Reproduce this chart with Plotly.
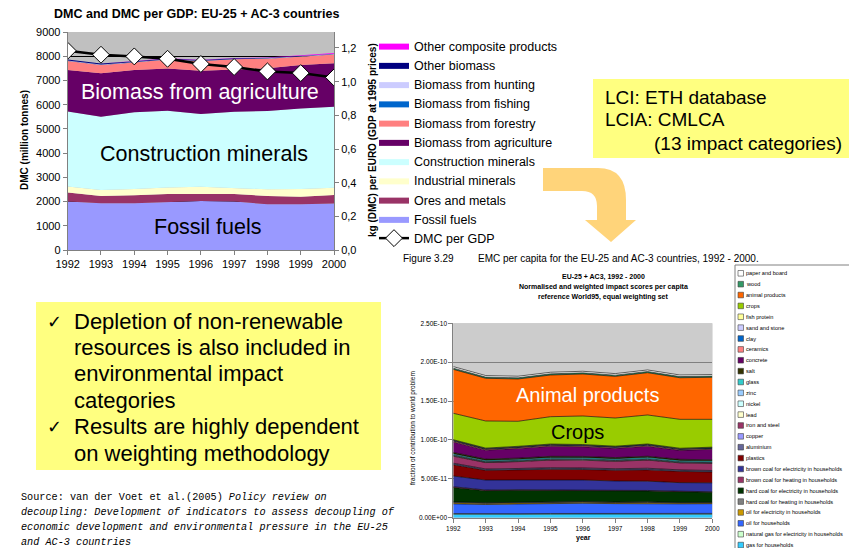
import plotly.graph_objects as go

W, H = 857, 548
FONT = "Arial, Liberation Sans, sans-serif"
PAGE_OFFSET = 8  # default page margin of the html body

# ---------------- top chart: DMC (million tonnes) ----------------
years = [1992, 1993, 1994, 1995, 1996, 1997, 1998, 1999, 2000]
fossil_fuels = [2000, 1930, 1930, 1960, 2020, 2000, 1890, 1890, 1920]
ores_and_metals = [370, 300, 330, 350, 290, 310, 340, 310, 350]
industrial_minerals = [250, 250, 260, 275, 300, 260, 275, 315, 300]
construction_minerals = [3095, 3025, 3165, 3165, 3000, 3135, 3235, 3330, 3345]
biomass_agriculture = [1720, 1790, 1745, 1745, 1790, 1760, 1760, 1790, 1790]
biomass_forestry = [370, 345, 315, 370, 400, 410, 400, 345, 370]
biomass_fishing = [10, 10, 10, 10, 10, 10, 10, 10, 10]
biomass_hunting = [5, 5, 5, 5, 5, 5, 5, 5, 5]
other_biomass = [40, 40, 35, 30, 30, 25, 20, 15, 10]
other_composite = [5, 5, 5, 5, 5, 10, 15, 25, 30]
dmc_per_gdp = [1.184, 1.160, 1.150, 1.136, 1.105, 1.087, 1.061, 1.051, 1.025]

left_ticks = [0, 1000, 2000, 3000, 4000, 5000, 6000, 7000, 8000, 9000]
left_grid = [1000, 2000, 3000, 4000, 5000, 6000, 7000, 8000]
right_tickvals = [0.0, 0.2, 0.4, 0.6, 0.8, 1.0, 1.2]
right_ticktext = ["0,0", "0,2", "0,4", "0,6", "0,8", "1,0", "1,2"]

top_series = [
    ("Fossil fuels", fossil_fuels, "#9999FF"),
    ("Ores and metals", ores_and_metals, "#993366"),
    ("Industrial minerals", industrial_minerals, "#FFFFCC"),
    ("Construction minerals", construction_minerals, "#CCFFFF"),
    ("Biomass from agriculture", biomass_agriculture, "#660066"),
    ("Biomass from forestry", biomass_forestry, "#FF8080"),
    ("Biomass from fishing", biomass_fishing, "#0066CC"),
    ("Biomass from hunting", biomass_hunting, "#CCCCFF"),
    ("Other biomass", other_biomass, "#000080"),
    ("Other composite products", other_composite, "#FF00FF"),
]

# ---------------- bottom chart: impact scores (units of 1E-11) ----------------
SCALE = 1e-11
gas_households = [0.45, 0.42, 0.43, 0.45, 0.47, 0.45, 0.46, 0.44, 0.45]
natural_gas_electricity = [0.08, 0.08, 0.08, 0.09, 0.09, 0.09, 0.10, 0.10, 0.10]
oil_households = [1.25, 1.20, 1.25, 1.28, 1.30, 1.27, 1.28, 1.24, 1.25]
oil_electricity = [0.15, 0.14, 0.14, 0.13, 0.14, 0.13, 0.13, 0.12, 0.12]
hard_coal_heating = [0.10, 0.09, 0.08, 0.08, 0.08, 0.07, 0.07, 0.07, 0.06]
hard_coal_electricity = [1.85, 1.55, 1.55, 1.50, 1.45, 1.45, 1.40, 1.38, 1.30]
brown_coal_heating = [0.10, 0.08, 0.07, 0.07, 0.07, 0.06, 0.06, 0.06, 0.05]
brown_coal_electricity = [1.38, 1.28, 1.25, 1.28, 1.25, 1.20, 1.20, 1.10, 1.15]
plastics = [1.45, 1.25, 1.30, 1.35, 1.35, 1.38, 1.45, 1.45, 1.40]
aluminium = [0.12, 0.11, 0.11, 0.12, 0.12, 0.12, 0.13, 0.12, 0.12]
copper = [0.08, 0.07, 0.07, 0.08, 0.08, 0.08, 0.08, 0.07, 0.07]
iron_and_steel = [0.90, 0.82, 0.88, 0.98, 1.00, 0.95, 1.05, 0.90, 0.92]
lead = [0.05, 0.04, 0.04, 0.05, 0.05, 0.05, 0.05, 0.04, 0.04]
nickel = [0.05, 0.05, 0.05, 0.05, 0.05, 0.05, 0.05, 0.05, 0.05]
zinc = [0.08, 0.07, 0.07, 0.08, 0.08, 0.08, 0.08, 0.07, 0.07]
glass = [0.15, 0.15, 0.15, 0.16, 0.16, 0.16, 0.17, 0.16, 0.16]
salt = [0.15, 0.14, 0.14, 0.14, 0.14, 0.14, 0.14, 0.14, 0.14]
concrete = [1.35, 1.15, 1.25, 1.30, 1.25, 1.20, 1.30, 1.15, 1.35]
ceramics = [0.12, 0.10, 0.11, 0.12, 0.12, 0.11, 0.12, 0.11, 0.11]
clay = [0.08, 0.07, 0.07, 0.07, 0.07, 0.07, 0.07, 0.07, 0.07]
sand_and_stone = [0.04, 0.04, 0.04, 0.04, 0.04, 0.04, 0.04, 0.04, 0.04]
fish_protein = [0.05, 0.05, 0.05, 0.05, 0.05, 0.05, 0.05, 0.05, 0.05]
crops = [3.40, 3.49, 3.22, 3.52, 3.67, 3.62, 3.73, 3.72, 3.58]
animal_products = [5.65, 5.49, 5.44, 5.36, 5.40, 5.36, 5.44, 5.35, 5.41]
wood = [0.15, 0.15, 0.15, 0.15, 0.15, 0.15, 0.15, 0.15, 0.15]
paper_and_board = [0.20, 0.20, 0.20, 0.20, 0.20, 0.20, 0.20, 0.20, 0.20]

bottom_tickvals = [0, 5e-11, 1e-10, 1.5e-10, 2e-10, 2.5e-10]
bottom_grid = [5e-11, 1e-10, 1.5e-10, 2e-10]
bottom_ticktext = ["0.00E+00", "5.00E-11", "1.00E-10", "1.50E-10", "2.00E-10", "2.50E-10"]

bottom_series = [  # stacked bottom -> top
    ("gas for households", gas_households, "#33CCFF"),
    ("natural gas for electricity in households", natural_gas_electricity, "#CCFFCC"),
    ("oil for households", oil_households, "#3366FF"),
    ("oil for electricity in households", oil_electricity, "#CC9900"),
    ("hard coal for heating in households", hard_coal_heating, "#808080"),
    ("hard coal for electricity in households", hard_coal_electricity, "#003300"),
    ("brown coal for heating in households", brown_coal_heating, "#993366"),
    ("brown coal for electricity in households", brown_coal_electricity, "#333399"),
    ("plastics", plastics, "#800000"),
    ("aluminium", aluminium, "#666699"),
    ("copper", copper, "#9999FF"),
    ("iron and steel", iron_and_steel, "#993366"),
    ("lead", lead, "#FFFFCC"),
    ("nickel", nickel, "#CCFFFF"),
    ("zinc", zinc, "#99CCFF"),
    ("glass", glass, "#33CCCC"),
    ("salt", salt, "#333300"),
    ("concrete", concrete, "#660066"),
    ("ceramics", ceramics, "#FF8080"),
    ("clay", clay, "#0066CC"),
    ("sand and stone", sand_and_stone, "#CCCCFF"),
    ("fish protein", fish_protein, "#FFFF99"),
    ("crops", crops, "#99CC00"),
    ("animal products", animal_products, "#FF6600"),
    ("wood", wood, "#339966"),
    ("paper and board", paper_and_board, "#FFFFFF"),
]


def px(x):
    return (x - PAGE_OFFSET) / W


def py(y):
    return 1 - (y - PAGE_OFFSET) / H


fig = go.Figure()

# DMC per GDP line (first so that reversed legend lists it last)
fig.add_trace(go.Scatter(
    x=years, y=dmc_per_gdp, name="DMC per GDP", xaxis="x", yaxis="y2",
    mode="lines+markers", line=dict(color="#000000", width=2.5),
    marker=dict(symbol="diamond", size=13, color="#FFFFFF",
                line=dict(color="#000000", width=1)),
))
for name, vals, col in top_series:
    fig.add_trace(go.Scatter(
        x=years, y=vals, name=name, xaxis="x", yaxis="y",
        stackgroup="dmc", mode="lines", line=dict(width=0, color=col),
        fillcolor=col,
    ))

for name, vals, col in bottom_series:
    fig.add_trace(go.Scatter(
        x=years, y=[v * SCALE for v in vals], name=name, xaxis="x2", yaxis="y3",
        stackgroup="impact", mode="lines", line=dict(width=0.6, color="#000000"),
        fillcolor=col, showlegend=False,
    ))

shapes = []
annotations = []

# gray plot area for bottom chart
shapes.append(dict(type="rect", xref="x2 domain", yref="y3 domain", x0=0, x1=1, y0=0, y1=1,
                   fillcolor="#CCCCCC", line=dict(width=0), layer="below"))

# yellow boxes
shapes.append(dict(type="rect", xref="paper", yref="paper", x0=px(593), x1=px(870),
                   y0=py(158), y1=py(79), fillcolor="#FFFF80", line=dict(width=0), layer="below"))
shapes.append(dict(type="rect", xref="paper", yref="paper", x0=px(36), x1=px(381),
                   y0=py(470), y1=py(302), fillcolor="#FFFF80", line=dict(width=0), layer="below"))

# curved arrow
def P(x, y):
    return f"{px(x):.5f},{py(y):.5f}"

arrow = ("M " + P(543, 168) + " L " + P(598, 168) + " Q " + P(626, 168) + " " + P(626, 200) +
         " L " + P(626, 220) + " L " + P(636, 220) + " L " + P(611, 242) + " L " + P(585, 220) +
         " L " + P(597, 220) + " L " + P(597, 206) + " Q " + P(597, 191) + " " + P(582, 191) +
         " L " + P(543, 191) + " Z")
shapes.append(dict(type="path", xref="paper", yref="paper", path=arrow,
                   fillcolor="#FFD47A", line=dict(width=0)))

# bottom legend box
shapes.append(dict(type="rect", xref="paper", yref="paper", x0=px(735), x1=px(870),
                   y0=py(570), y1=py(265), fillcolor="#FFFFFF",
                   line=dict(color="#808080", width=1)))
for i, (name, vals, col) in enumerate(reversed(bottom_series)):
    yc = 273.3 + i * 10.87
    shapes.append(dict(type="rect", xref="paper", yref="paper", x0=px(738), x1=px(743.5),
                       y0=py(yc + 2.8), y1=py(yc - 2.8), fillcolor=col,
                       line=dict(color="#404040", width=0.6)))
    annotations.append(dict(xref="paper", yref="paper", x=px(744), y=py(yc), text=name,
                            showarrow=False, xanchor="left", yanchor="middle",
                            font=dict(family=FONT, size=5.6, color="#000000")))

# top chart title
annotations.append(dict(xref="paper", yref="paper", x=px(196), y=py(14),
                        text="<b>DMC and DMC per GDP: EU-25 + AC-3 countries</b>",
                        showarrow=False, xanchor="center", yanchor="middle",
                        font=dict(family=FONT, size=12.5, color="#000000")))
# in-chart labels (top)
annotations.append(dict(xref="x", yref="y", x=1995.97, y=6520, text="Biomass from agriculture",
                        showarrow=False, font=dict(family=FONT, size=21.5, color="#FFFFFF")))
annotations.append(dict(xref="x", yref="y", x=1996.1, y=3960, text="Construction minerals",
                        showarrow=False, font=dict(family=FONT, size=21.5, color="#000000")))
annotations.append(dict(xref="x", yref="y", x=1996.2, y=950, text="Fossil fuels",
                        showarrow=False, font=dict(family=FONT, size=21.5, color="#000000")))
# in-chart labels (bottom)
annotations.append(dict(xref="x2", yref="y3", x=1996.16, y=1.58e-10, text="Animal products",
                        showarrow=False, font=dict(family=FONT, size=20, color="#FFFFFF")))
annotations.append(dict(xref="x2", yref="y3", x=1995.85, y=1.106e-10, text="Crops",
                        showarrow=False, font=dict(family=FONT, size=20, color="#000000")))

# bottom chart title
for txt, yy in [("EU-25 + AC3, 1992 - 2000", 277),
                ("Normalised and weighted impact scores per capita", 287),
                ("reference World95, equal weighting set", 297)]:
    annotations.append(dict(xref="paper", yref="paper", x=px(603), y=py(yy), text="<b>" + txt + "</b>",
                            showarrow=False, xanchor="center", yanchor="middle",
                            font=dict(family=FONT, size=7, color="#000000")))

# figure caption
annotations.append(dict(xref="paper", yref="paper", x=px(401), y=py(258), text="Figure 3.29",
                        showarrow=False, xanchor="left", yanchor="middle",
                        font=dict(family=FONT, size=10, color="#000000")))
annotations.append(dict(xref="paper", yref="paper", x=px(476), y=py(258),
                        text="EMC per capita for the EU-25 and AC-3 countries, 1992 - 2000.",
                        showarrow=False, xanchor="left", yanchor="middle",
                        font=dict(family=FONT, size=10, color="#000000")))

# LCI box text
for txt, xx, yy in [("LCI: ETH database", 603, 97), ("LCIA: CMLCA", 603, 120),
                    ("(13 impact categories)", 652, 143)]:
    annotations.append(dict(xref="paper", yref="paper", x=px(xx), y=py(yy), text=txt,
                            showarrow=False, xanchor="left", yanchor="middle",
                            font=dict(family=FONT, size=19, color="#000000")))

# bullet box text
bullet_lines = ["Depletion of non-renewable", "resources is also included in",
                "environmental impact", "categories", "Results are highly dependent",
                "on weighting methodology"]
for i, txt in enumerate(bullet_lines):
    yy = 321 + i * 26.4
    annotations.append(dict(xref="paper", yref="paper", x=px(72), y=py(yy), text=txt,
                            showarrow=False, xanchor="left", yanchor="middle",
                            font=dict(family=FONT, size=22, color="#000000")))
    if i in (0, 4):
        annotations.append(dict(xref="paper", yref="paper", x=px(45), y=py(yy), text="✓",
                                showarrow=False, xanchor="left", yanchor="middle",
                                font=dict(family="DejaVu Sans", size=18, color="#000000")))

# source text
source_lines = ["Source: van der Voet et al.(2005) <i>Policy review on</i>",
                "<i>decoupling: Development of indicators to assess decoupling of</i>",
                "<i>economic development and environmental pressure in the EU-25</i>",
                "<i>and AC-3 countries</i>"]
for i, txt in enumerate(source_lines):
    annotations.append(dict(xref="paper", yref="paper", x=px(19), y=py(497 + i * 15), text=txt,
                            showarrow=False, xanchor="left", yanchor="middle",
                            font=dict(family="Liberation Mono, DejaVu Sans Mono, monospace",
                                      size=10.2, color="#000000")))

# axis titles (bottom chart)
annotations.append(dict(xref="paper", yref="paper", x=px(413), y=py(428),
                        text="fraction of contribution to world problem", textangle=-90,
                        showarrow=False, xanchor="center", yanchor="middle",
                        font=dict(family=FONT, size=6.5, color="#000000")))
annotations.append(dict(xref="paper", yref="paper", x=px(583), y=py(538), text="<b>year</b>",
                        showarrow=False, xanchor="center", yanchor="middle",
                        font=dict(family=FONT, size=7, color="#000000")))
# axis titles (top chart)
annotations.append(dict(xref="paper", yref="paper", x=px(24), y=py(140),
                        text="<b>DMC (million tonnes)</b>", textangle=-90,
                        showarrow=False, xanchor="center", yanchor="middle",
                        font=dict(family=FONT, size=10, color="#000000")))
annotations.append(dict(xref="paper", yref="paper", x=px(372), y=py(140),
                        text="<b>kg (DMC) per EURO (GDP at 1995 prices)</b>", textangle=-90,
                        showarrow=False, xanchor="center", yanchor="middle",
                        font=dict(family=FONT, size=10, color="#000000")))

axis_common = dict(showline=True, linecolor="#808080", linewidth=1, ticks="outside",
                   tickcolor="#808080", ticklen=4, zeroline=False, automargin=False)

fig.update_layout(
    width=W, height=H, autosize=False,
    margin=dict(l=0, r=0, t=0, b=0, pad=0, autoexpand=False),
    paper_bgcolor="#FFFFFF", plot_bgcolor="#C0C0C0",
    font=dict(family=FONT, color="#000000"),
    showlegend=True,
    legend=dict(x=px(374), y=py(31), xanchor="left", yanchor="top",
                traceorder="reversed", bgcolor="rgba(0,0,0,0)",
                font=dict(family=FONT, size=12.5, color="#000000"),
                itemwidth=30, tracegroupgap=0),
    xaxis=dict(domain=[px(67.7), px(334)], anchor="y", range=[1992, 2000],
               tickvals=years, tickfont=dict(size=11), showgrid=False, **axis_common),
    yaxis=dict(domain=[py(250), py(32)], anchor="x", range=[0, 9000], tickvals=left_ticks,
               tickfont=dict(size=11), showgrid=False,
               minor=dict(tickmode="array", tickvals=left_grid, showgrid=True,
                          gridcolor="#000000", gridwidth=1, ticks=""),
               **axis_common),
    yaxis2=dict(overlaying="y", side="right", anchor="x", range=[0, 1.295],
                tickvals=right_tickvals, ticktext=right_ticktext, tickfont=dict(size=11),
                showgrid=False, **axis_common),
    xaxis2=dict(domain=[px(453.3), px(712.3)], anchor="y3", range=[1992, 2000],
                tickvals=years, tickfont=dict(size=6.5), showgrid=False, **axis_common),
    yaxis3=dict(domain=[py(517.7), py(323.3)], anchor="x2", range=[0, 2.5e-10],
                tickvals=bottom_tickvals, ticktext=bottom_ticktext, tickfont=dict(size=6.5),
                showgrid=False,
                minor=dict(tickmode="array", tickvals=bottom_grid, showgrid=True,
                           gridcolor="#808080", gridwidth=1, ticks=""),
                **axis_common),
    shapes=shapes,
    annotations=annotations,
)

fig.write_html("out.html")
